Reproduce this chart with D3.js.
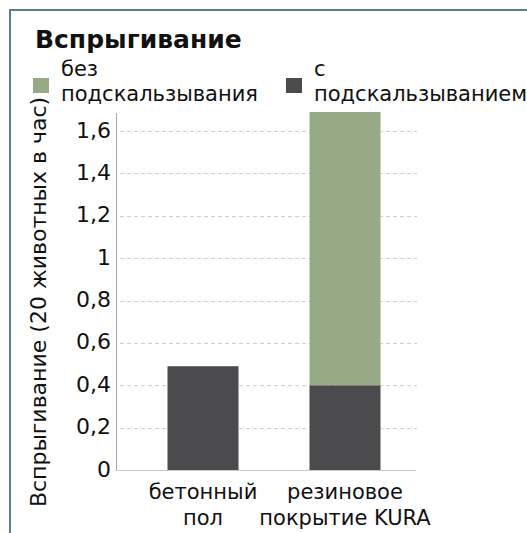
<!DOCTYPE html>
<html>
<head>
<meta charset="utf-8">
<script src="https://d3js.org/d3.v7.min.js"></script>
<style>
  body { margin: 0; background: #fff; }
  svg text { font-family: "DejaVu Sans", sans-serif; fill: #111; }
</style>
</head>
<body>
<svg width="527" height="533"></svg>
<script>
  // data
  var categories = [["бетонный", "пол"], ["резиновое", "покрытие KURA"]];
  var withSlip = [0.49, 0.40];      // с подскальзыванием
  var withoutSlip = [0, 1.29];      // без подскальзывания
  var yTicks = [0, 0.2, 0.4, 0.6, 0.8, 1, 1.2, 1.4, 1.6];
  var seriesNames = ["без подскальзывания", "с подскальзыванием"];
  var seriesLines = [["без", "подскальзывания"], ["с", "подскальзыванием"]];
  var colors = ["#96aa87", "#4b4b4d"];

  var svg = d3.select("svg");

  // frame
  svg.append("path")
      .attr("d", "M10,533V10H527")
      .attr("fill", "none")
      .attr("stroke", "#5b7e8d")
      .attr("stroke-width", 2);

  var x = d3.scaleBand()
      .domain(d3.range(categories.length))
      .range([132, 416])
      .paddingInner(0.5)
      .paddingOuter(0.25);

  var y = d3.scaleLinear()
      .domain([0, 1.69])
      .range([470, 112]);

  // grid
  svg.append("g")
    .selectAll("line")
    .data(yTicks.filter(function(d) { return d > 0; }))
    .enter().append("line")
      .attr("x1", 120).attr("x2", 417)
      .attr("y1", function(d) { return Math.round(y(d)) + 0.5; })
      .attr("y2", function(d) { return Math.round(y(d)) + 0.5; })
      .attr("stroke", "#cfcfcf")
      .attr("stroke-dasharray", "4,3");

  // stacked bars
  var rows = categories.map(function(c, i) {
    return {i: i, withSlip: withSlip[i], withoutSlip: withoutSlip[i]};
  });
  var stack = d3.stack().keys(["withSlip", "withoutSlip"])(rows);

  svg.append("g")
    .selectAll("g")
    .data(stack)
    .enter().append("g")
      .attr("fill", function(d, k) { return k === 0 ? colors[1] : colors[0]; })
    .selectAll("rect")
    .data(function(d) { return d; })
    .enter().append("rect")
      .attr("x", function(d) { return x(d.data.i); })
      .attr("width", x.bandwidth())
      .attr("y", function(d) { return y(d[1]); })
      .attr("height", function(d) { return y(d[0]) - y(d[1]); });

  // axes lines
  svg.append("line")
      .attr("x1", 116.5).attr("x2", 116.5)
      .attr("y1", 113).attr("y2", 471)
      .attr("stroke", "#a8a8a8");
  svg.append("line")
      .attr("x1", 116).attr("x2", 416)
      .attr("y1", 470.5).attr("y2", 470.5)
      .attr("stroke", "#c8c8c8");

  // y tick labels
  var fmt = function(d) { return String(d).replace(".", ","); };
  svg.append("g")
    .selectAll("text")
    .data(yTicks)
    .enter().append("text")
      .attr("x", 111)
      .attr("y", function(d) { return y(d); })
      .attr("dy", "0.3em")
      .attr("text-anchor", "end")
      .style("font-size", "22px")
      .text(fmt);

  // x labels
  var xl = svg.append("g")
    .selectAll("text")
    .data(categories)
    .enter().append("text")
      .attr("text-anchor", "middle")
      .style("font-size", "21px");
  xl.selectAll("tspan")
    .data(function(d, i) { return d.map(function(t) { return {t: t, i: i}; }); })
    .enter().append("tspan")
      .attr("x", function(d) { return x(d.i) + x.bandwidth() / 2; })
      .attr("y", function(d, j) { return 499 + j * 26; })
      .text(function(d) { return d.t; });

  // y title
  svg.append("text")
      .attr("transform", "translate(46,302) rotate(-90)")
      .attr("text-anchor", "middle")
      .style("font-size", "22px")
      .text("Вспрыгивание (20 животных в час)");

  // title
  svg.append("text")
      .attr("x", 35)
      .attr("y", 48)
      .style("font-size", "25px")
      .style("font-weight", "bold")
      .text("Вспрыгивание");

  // legend
  var legX = [33, 286];
  var leg = svg.append("g")
    .selectAll("g")
    .data(seriesNames)
    .enter().append("g")
      .attr("transform", function(d, i) { return "translate(" + legX[i] + ",0)"; });
  leg.append("rect")
      .attr("y", 78)
      .attr("width", 16)
      .attr("height", 15)
      .attr("fill", function(d, i) { return colors[i]; });
  leg.append("text")
      .style("font-size", "21px")
    .selectAll("tspan")
    .data(function(d, i) { return seriesLines[i]; })
    .enter().append("tspan")
      .attr("x", 28)
      .attr("y", function(d, j) { return 76 + j * 25; })
      .text(function(d) { return d; });
</script>
</body>
</html>
